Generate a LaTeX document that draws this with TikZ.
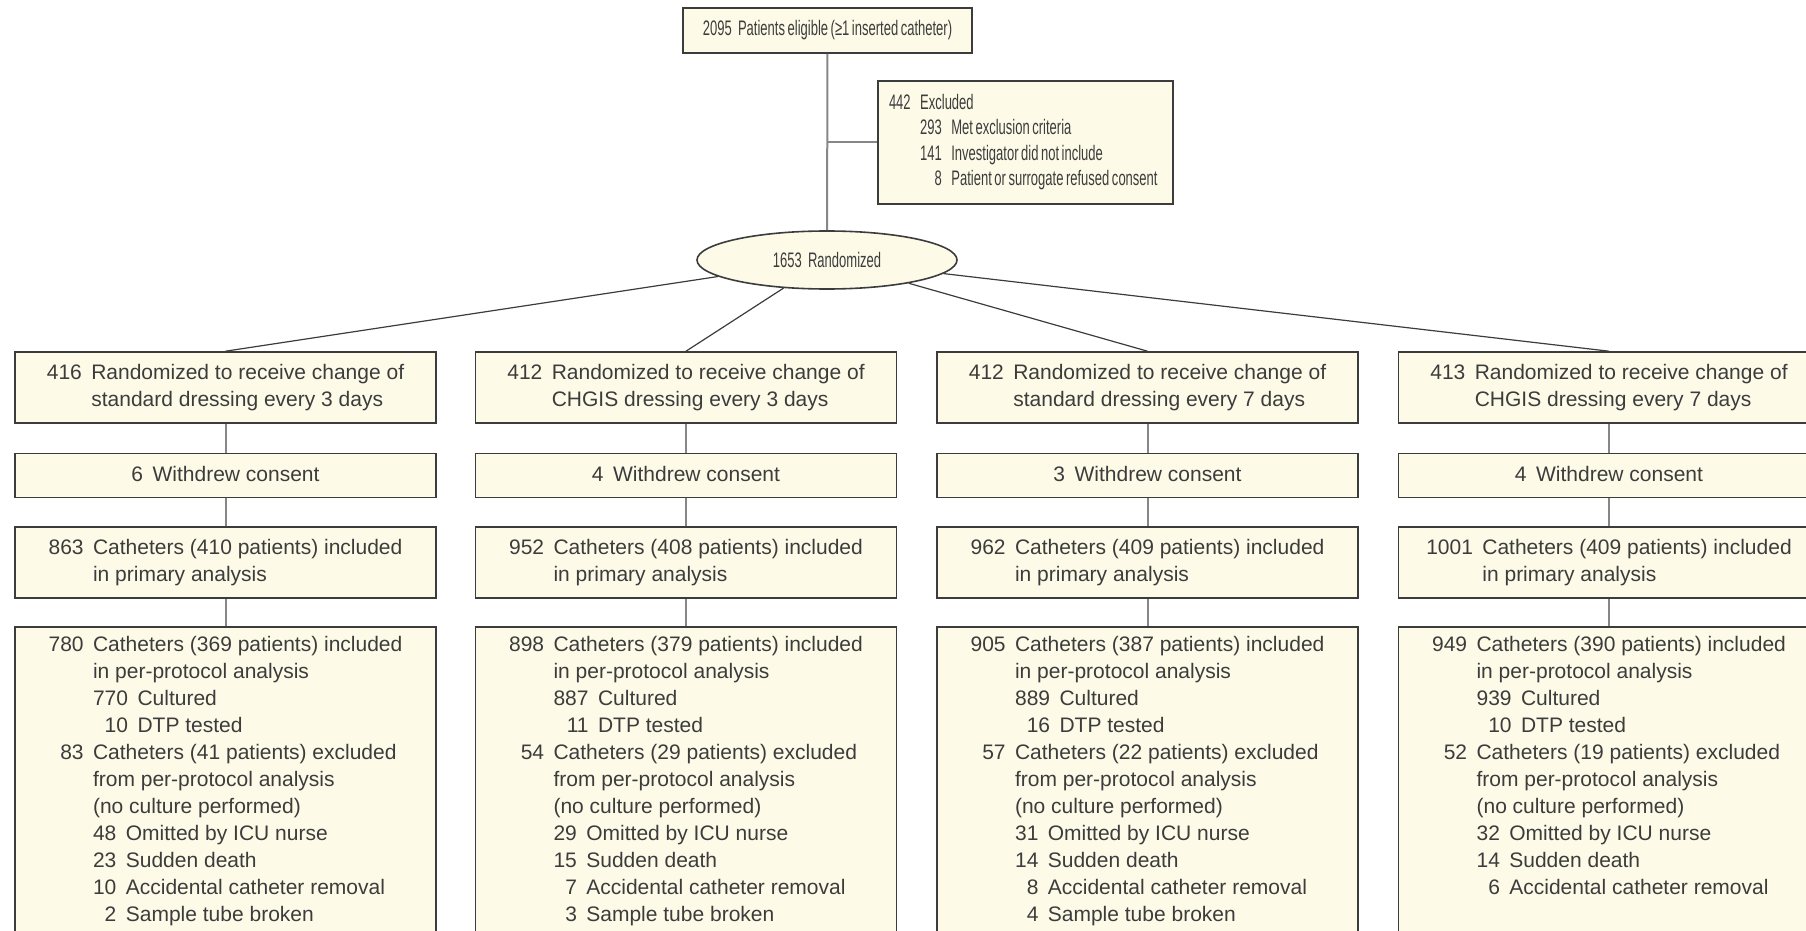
\documentclass[tikz,border=0pt]{standalone}
\usepackage{fontspec}
\setmainfont{Liberation Sans}
\newfontfamily\narrowfont[FakeStretch=0.62, WordSpace=0.7]{Liberation Sans}
\usetikzlibrary{positioning, shapes.geometric}
\definecolor{boxcream}{RGB}{253, 251, 232}
\definecolor{inkgray}{RGB}{60, 60, 60}
\definecolor{linkgray}{RGB}{135, 135, 135}

\newcommand{\numtab}[2][c]{\begin{tabular}[#1]{@{}r@{\hspace{0.45em}}l@{}}#2\end{tabular}}

\begin{document}
\begin{tikzpicture}[x=0.5pt, y=-0.5pt,
        font=\fontsize{10.5}{13.5}\selectfont, text=inkgray,
        flowbox/.style={draw=inkgray, line width=0.8pt, fill=boxcream, minimum width=210.5pt, inner sep=0pt},
        twoline/.style={flowbox, minimum height=35.5pt},
        oneline/.style={flowbox, minimum height=22pt},
        listbox/.style={flowbox, inner ysep=2.8pt, text depth=150pt},
        link/.style={draw=linkgray, line width=1pt},
        spoke/.style={draw=inkgray, line width=0.6pt}]
    \useasboundingbox (0,0) rectangle (1806,931);
    \clip (0,0) rectangle (1806,931);

        % enrolment
        \node[flowbox, minimum width=144.5pt, minimum height=22.5pt, font=\narrowfont\fontsize{10.5}{12.6}\selectfont]
            (elig) at (827.5,30.5) {2095\hspace{0.3em}Patients eligible (≥1 inserted catheter)};
        \node[flowbox, minimum width=147.5pt, minimum height=61.5pt,
              font=\narrowfont\fontsize{10.5}{12.6}\selectfont]
            (excl) at (1025.5,142.5) {\makebox[136.5pt][l]{\numtab{442 & Excluded\\
                & \numtab[t]{293 & Met exclusion criteria\\ 141 & Investigator did not include\\ 8 & Patient or surrogate refused consent}}}};
        \node[ellipse, draw=inkgray, line width=0.8pt, fill=boxcream, minimum width=130pt, minimum height=29pt,
              inner sep=0pt, font=\narrowfont\fontsize{10.5}{12.6}\selectfont]
            (rand) at (827,260) {1653\hspace{0.3em}Randomized};

        % allocation
        \node[twoline] (arm1) at (225.5,387.5) {\numtab{416 & Randomized to receive change of\\ & standard dressing every 3 days}};
        \node[twoline] (arm2) at (686,387.5) {\numtab{412 & Randomized to receive change of\\ & CHGIS dressing every 3 days}};
        \node[twoline] (arm3) at (1147.5,387.5) {\numtab{412 & Randomized to receive change of\\ & standard dressing every 7 days}};
        \node[twoline] (arm4) at (1609,387.5) {\numtab{413 & Randomized to receive change of\\ & CHGIS dressing every 7 days}};

        \node[oneline, below=14.5pt of arm1] (wd1) {\numtab{6 & Withdrew consent}};
        \node[oneline, below=14.5pt of arm2] (wd2) {\numtab{4 & Withdrew consent}};
        \node[oneline, below=14.5pt of arm3] (wd3) {\numtab{3 & Withdrew consent}};
        \node[oneline, below=14.5pt of arm4] (wd4) {\numtab{4 & Withdrew consent}};

        % analysis
        \node[twoline, below=14pt of wd1] (prim1) {\numtab{863 & Catheters (410 patients) included\\ & in primary analysis}};
        \node[twoline, below=14pt of wd2] (prim2) {\numtab{952 & Catheters (408 patients) included\\ & in primary analysis}};
        \node[twoline, below=14pt of wd3] (prim3) {\numtab{962 & Catheters (409 patients) included\\ & in primary analysis}};
        \node[twoline, below=14pt of wd4] (prim4) {\numtab{1001 & Catheters (409 patients) included\\ & in primary analysis}};

        \node[listbox, below=13.5pt of prim1] (pp1) {\numtab[t]{780 & Catheters (369 patients) included\\
            & in per-protocol analysis\\
            & \numtab[t]{770 & Cultured\\ 10 & DTP tested}\\
            83 & Catheters (41 patients) excluded\\
            & from per-protocol analysis\\
            & (no culture performed)\\
            & \numtab[t]{48 & Omitted by ICU nurse\\ 23 & Sudden death\\ 10 & Accidental catheter removal\\ 2 & Sample tube broken}}};
        \node[listbox, below=13.5pt of prim2] (pp2) {\numtab[t]{898 & Catheters (379 patients) included\\
            & in per-protocol analysis\\
            & \numtab[t]{887 & Cultured\\ 11 & DTP tested}\\
            54 & Catheters (29 patients) excluded\\
            & from per-protocol analysis\\
            & (no culture performed)\\
            & \numtab[t]{29 & Omitted by ICU nurse\\ 15 & Sudden death\\ 7 & Accidental catheter removal\\ 3 & Sample tube broken}}};
        \node[listbox, below=13.5pt of prim3] (pp3) {\numtab[t]{905 & Catheters (387 patients) included\\
            & in per-protocol analysis\\
            & \numtab[t]{889 & Cultured\\ 16 & DTP tested}\\
            57 & Catheters (22 patients) excluded\\
            & from per-protocol analysis\\
            & (no culture performed)\\
            & \numtab[t]{31 & Omitted by ICU nurse\\ 14 & Sudden death\\ 8 & Accidental catheter removal\\ 4 & Sample tube broken}}};
        \node[listbox, below=13.5pt of prim4] (pp4) {\numtab[t]{949 & Catheters (390 patients) included\\
            & in per-protocol analysis\\
            & \numtab[t]{939 & Cultured\\ 10 & DTP tested}\\
            52 & Catheters (19 patients) excluded\\
            & from per-protocol analysis\\
            & (no culture performed)\\
            & \numtab[t]{32 & Omitted by ICU nurse\\ 14 & Sudden death\\ 6 & Accidental catheter removal}}};

        % connectors
        \draw[link] (elig) -- (rand);
        \draw[link] (elig.south |- excl.west) -- (excl.west);
        \draw[spoke] (rand) -- (arm1.north);
        \draw[spoke] (rand) -- (arm2.north);
        \draw[spoke] (rand) -- (arm3.north);
        \draw[spoke] (rand) -- (arm4.north);
        \draw[link] (arm1) -- (wd1) (wd1) -- (prim1) (prim1.south) -- (pp1.north);
        \draw[link] (arm2) -- (wd2) (wd2) -- (prim2) (prim2.south) -- (pp2.north);
        \draw[link] (arm3) -- (wd3) (wd3) -- (prim3) (prim3.south) -- (pp3.north);
        \draw[link] (arm4) -- (wd4) (wd4) -- (prim4) (prim4.south) -- (pp4.north);
    \end{tikzpicture}
\end{document}
